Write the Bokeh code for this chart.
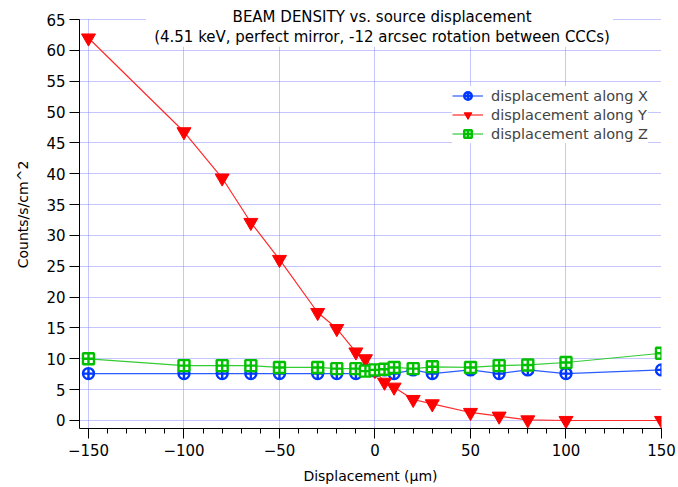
from bokeh.plotting import figure
from bokeh.models import Label, SingleIntervalTicker, Range1d, BoxAnnotation
from bokeh.embed import file_html
from bokeh.resources import INLINE

# ---- data ----
displacement = [-150, -100, -80, -65, -50, -30, -20, -10, -5, 0, 5, 10, 20, 30, 50, 65, 80, 100, 150]
along_x = [7.6, 7.6, 7.6, 7.6, 7.6, 7.6, 7.6, 7.6, 8.2, 8.0, 8.2, 7.6, 8.2, 7.6, 8.2, 7.6, 8.2, 7.6, 8.2]
along_y = [62.0, 46.8, 39.3, 32.1, 26.1, 17.5, 14.9, 11.1, 10.0, 8.1, 6.2, 5.4, 3.4, 2.7, 1.3, 0.7, 0.1, 0.0, 0.0]
along_z = [10.0, 8.9, 8.9, 8.9, 8.6, 8.6, 8.4, 8.4, 8.0, 8.2, 8.3, 8.6, 8.4, 8.7, 8.6, 8.9, 9.0, 9.4, 10.9]
series_labels = ["displacement along X", "displacement along Y", "displacement along Z"]
title_lines = ["BEAM DENSITY vs. source displacement",
               "(4.51 keV, perfect mirror, -12 arcsec rotation between CCCs)"]
x_label = "Displacement (\u03bcm)"
y_label = "Counts/s/cm^2"
y_top = 65

FONT = "DejaVu Sans"

# frame reaches the top of the canvas so the title (drawn inside it) is not clipped
p = figure(width=678, height=487, output_backend="svg", toolbar_location=None,
           x_range=Range1d(-154.7, 150), y_range=Range1d(-1.3, 68.08),
           min_border_left=79, min_border_right=17, min_border_top=0, min_border_bottom=59)
p.outline_line_color = None
p.background_fill_color = "white"
p.border_fill_color = "white"

# axes
p.xaxis.ticker = SingleIntervalTicker(interval=50, num_minor_ticks=5)
p.yaxis.ticker = SingleIntervalTicker(interval=5, num_minor_ticks=0)
p.yaxis.bounds = (-1.3, y_top)
for ax in (p.xaxis[0], p.yaxis[0]):
    ax.axis_line_color = "black"
    ax.major_tick_line_color = "black"
    ax.major_tick_in = 0
    ax.major_tick_out = 10
    ax.major_label_text_font = FONT
    ax.major_label_text_font_size = "15px"
    ax.major_label_text_color = "black"
    ax.axis_label_text_font = FONT
    ax.axis_label_text_font_size = "14px"
    ax.axis_label_text_font_style = "normal"
    ax.axis_label_text_color = "black"
p.xaxis.minor_tick_line_color = "black"
p.xaxis.minor_tick_in = 0
p.xaxis.minor_tick_out = 5
p.yaxis.minor_tick_line_color = None
p.xaxis.major_label_standoff = 5
p.yaxis.major_label_standoff = 4
p.xaxis.axis_label = x_label
p.yaxis.axis_label = y_label
p.xaxis.axis_label_standoff = 9
p.yaxis.axis_label_standoff = 12

# grid
for g in (p.xgrid[0], p.ygrid[0]):
    g.grid_line_color = "#8c8cff"
    g.grid_line_dash = "1 1"
    g.grid_line_width = 1

# series
cx, cy, cz = "#0038ff", "#ff0000", "#00c000"
p.line(displacement, along_x, color="#2a5cff", line_width=1.2, legend_label=series_labels[0])
p.scatter(displacement, along_x, marker="circle_cross", size=11, line_color=cx,
          fill_color="white", line_width=2.4, legend_label=series_labels[0])
p.line(displacement, along_y, color="#ff2a2a", line_width=1.2, legend_label=series_labels[1])
p.scatter(displacement, along_y, marker="inverted_triangle", size=14, line_color=cy,
          fill_color=cy, line_width=1, legend_label=series_labels[1])
p.line(displacement, along_z, color="#33cc33", line_width=1.2, legend_label=series_labels[2])
p.scatter(displacement, along_z, marker="square_cross", size=11, line_color=cz,
          fill_color="white", line_width=2.4, legend_label=series_labels[2])

leg = p.legend[0]
leg.location = (373, 285)
leg.background_fill_color = "white"
leg.background_fill_alpha = 1
leg.border_line_color = None
leg.label_text_font = FONT
leg.label_text_font_size = "14.5px"
leg.glyph_width = 31
leg.glyph_height = 19
leg.label_height = 19
leg.spacing = 0
leg.padding = 4
leg.margin = 0
leg.label_standoff = 8

# blank everything above the top gridline, then the title box over the plot area
p.add_layout(BoxAnnotation(bottom=y_top + 0.1, fill_color="white", fill_alpha=1.0, line_color=None))
p.add_layout(BoxAnnotation(left=-120, right=124.6, bottom=60.6, top=70,
                           fill_color="white", fill_alpha=1.0, line_color=None))
p.add_layout(Label(x=3.7, y=65.48, x_units="data", y_units="data",
                   text=title_lines[0], text_align="center", text_baseline="middle",
                   text_font=FONT, text_font_size="15px", text_color="black"))
p.add_layout(Label(x=3.7, y=62.24, x_units="data", y_units="data",
                   text=title_lines[1], text_align="center", text_baseline="middle",
                   text_font=FONT, text_font_size="15px", text_color="black"))

open("out.html", "w").write(file_html(p, INLINE))
